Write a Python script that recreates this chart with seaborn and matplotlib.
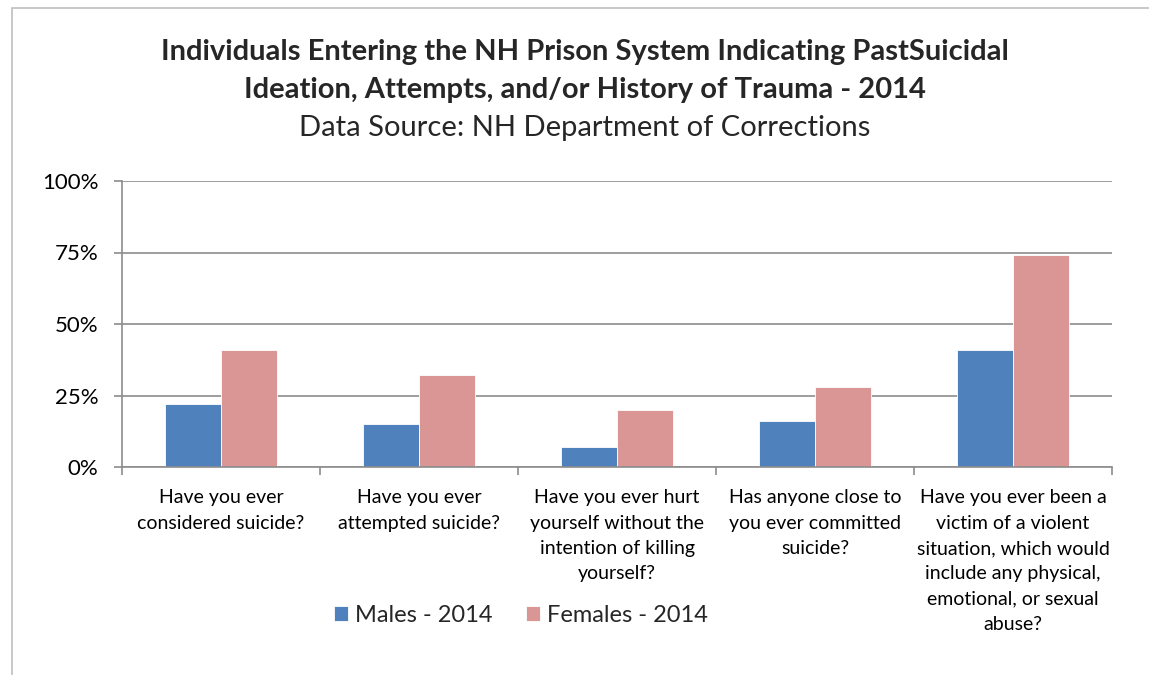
import matplotlib
matplotlib.use("Agg")
import matplotlib.pyplot as plt
import seaborn as sns
import pandas as pd
from matplotlib.patches import Rectangle
from matplotlib.ticker import FixedLocator, PercentFormatter

questions = [
    "Have you ever\nconsidered suicide?",
    "Have you ever\nattempted suicide?",
    "Have you ever hurt\nyourself without the\nintention of killing\nyourself?",
    "Has anyone close to\nyou ever committed\nsuicide?",
    "Have you ever been a\nvictim of a violent\nsituation, which would\ninclude any physical,\nemotional, or sexual\nabuse?",
]
males_2014 = [22, 15, 7, 16, 41]
females_2014 = [41, 32, 20, 28, 74]
series_names = ["Males - 2014", "Females - 2014"]
colors = ["#4F81BD", "#D99694"]

df = pd.DataFrame({
    "question": questions * 2,
    "value": males_2014 + females_2014,
    "series": [series_names[0]] * len(questions) + [series_names[1]] * len(questions),
})

sns.set_theme(style="white")
plt.rcParams["font.family"] = ["Lato", "DejaVu Sans"]

fig = plt.figure(figsize=(11.49, 6.75), dpi=100)
fig.patches.append(Rectangle((12 / 1149, -0.01), 1.2, 1 - 8 / 675 + 0.01,
                             transform=fig.transFigure, fill=False,
                             edgecolor="#BFBFBF", linewidth=1.2))
ax = fig.add_axes([122 / 1149, 1 - 467 / 675, 990 / 1149, 286 / 675])

sns.barplot(data=df, x="question", y="value", hue="series", palette=colors,
            width=0.57, ax=ax, saturation=1, edgecolor="#FFFFFF", linewidth=0.6,
            legend=True)

ax.set_ylim(0, 100)
ax.set_xlim(-0.5, len(questions) - 0.5)
ax.yaxis.set_major_locator(FixedLocator([0, 25, 50, 75, 100]))
ax.yaxis.set_major_formatter(PercentFormatter(decimals=0))
ax.grid(axis="y", color="#8C8C8C", linewidth=1.2)
ax.set_axisbelow(True)
for s in ["top", "right"]:
    ax.spines[s].set_visible(False)
for s in ["left", "bottom"]:
    ax.spines[s].set_color("#8C8C8C")
    ax.spines[s].set_linewidth(1.2)

ax.tick_params(axis="y", which="major", left=True, length=6, width=1.2,
               color="#8C8C8C", labelsize=16, labelcolor="#000000", pad=11)
ax.set_xticks(range(len(questions)))
ax.set_xticklabels(questions, fontsize=14, color="#000000", linespacing=1.6,
                   va="top")
ax.tick_params(axis="x", which="major", bottom=False, pad=10)
ax.set_xticks([i - 0.5 for i in range(len(questions) + 1)], minor=True)
ax.tick_params(axis="x", which="minor", bottom=True, length=6, width=1.2,
               color="#8C8C8C")
ax.set_xlabel("")
ax.set_ylabel("")

ax.legend(loc="center", bbox_to_anchor=(521 / 1149, 1 - 615 / 675),
          bbox_transform=fig.transFigure, ncol=2, frameon=False, fontsize=17,
          handlelength=0.6, handleheight=0.6, handletextpad=0.3,
          columnspacing=1.4)

fig.text(0.509, 1 - 52 / 675, "Individuals Entering the NH Prison System Indicating PastSuicidal",
         ha="center", va="center", fontsize=21, fontweight="bold")
fig.text(0.509, 1 - 90 / 675, "Ideation, Attempts, and/or History of Trauma - 2014",
         ha="center", va="center", fontsize=21, fontweight="bold")
fig.text(0.509, 1 - 128 / 675, "Data Source: NH Department of Corrections",
         ha="center", va="center", fontsize=21)

fig.savefig("out.png", dpi=100)
